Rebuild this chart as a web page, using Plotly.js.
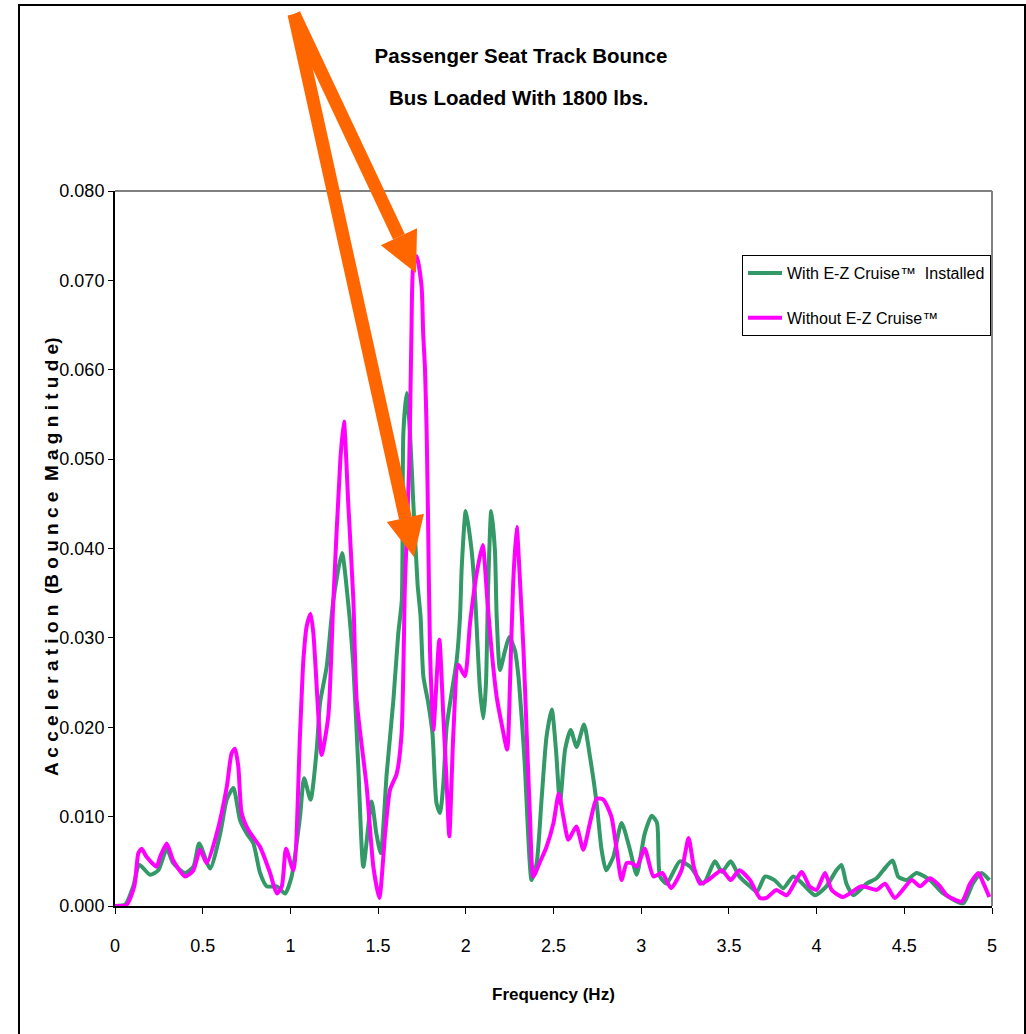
<!DOCTYPE html>
<html>
<head>
<meta charset="utf-8">
<script src="https://cdn.plot.ly/plotly-3.0.1.min.js"></script>
<style>html,body{margin:0;padding:0;background:#fff;}#chart{width:1026px;height:1034px;}</style>
</head>
<body>
<div id="chart"></div>
<script>
// ---- data ----
const freqWith = [0,0.06,0.104,0.139,0.2,0.247,0.295,0.332,0.399,0.447,0.48,0.542,0.6,0.637,0.675,0.713,0.751,0.789,0.827,0.865,0.922,0.97,1.007,1.055,1.078,1.115,1.15,1.169,1.207,1.245,1.294,1.328,1.359,1.387,1.416,1.463,1.49,1.515,1.549,1.587,1.615,1.635,1.644,1.663,1.682,1.70,1.725,1.742,1.758,1.786,1.81,1.833,1.853,1.872,1.891,1.919,1.948,1.967,1.977,2.0,2.033,2.052,2.081,2.1,2.115,2.128,2.145,2.166,2.176,2.195,2.224,2.248,2.28,2.3,2.318,2.337,2.356,2.375,2.404,2.432,2.46,2.49,2.514,2.537,2.566,2.598,2.632,2.674,2.708,2.746,2.774,2.8,2.841,2.888,2.936,2.974,3.02,3.06,3.09,3.107,3.145,3.22,3.28,3.354,3.42,3.46,3.51,3.56,3.62,3.66,3.706,3.76,3.81,3.867,3.92,3.991,4.056,4.113,4.142,4.17,4.21,4.285,4.342,4.38,4.433,4.465,4.513,4.57,4.647,4.722,4.836,4.89,4.94,4.985];
const accWith = [0,0.0002,0.0022,0.0046,0.0035,0.0040,0.0064,0.0048,0.0037,0.0044,0.0070,0.0042,0.0081,0.0119,0.0132,0.0096,0.0081,0.0070,0.0037,0.0022,0.0022,0.0014,0.0033,0.0100,0.0143,0.0119,0.0175,0.0227,0.0268,0.0342,0.0395,0.0342,0.0268,0.0156,0.0044,0.0117,0.0081,0.0059,0.0148,0.0230,0.0305,0.0342,0.0529,0.0574,0.0529,0.0454,0.0360,0.0324,0.0257,0.0227,0.0193,0.0115,0.0104,0.0137,0.0201,0.0238,0.0275,0.0324,0.0380,0.0442,0.0398,0.0350,0.0242,0.0210,0.0249,0.0361,0.0442,0.0398,0.0324,0.0264,0.0286,0.0301,0.0286,0.0257,0.0212,0.0156,0.0078,0.0029,0.0048,0.0119,0.0189,0.0220,0.0175,0.0115,0.0175,0.0197,0.0178,0.0203,0.0167,0.0115,0.0063,0.0040,0.0055,0.0093,0.0063,0.0035,0.0081,0.0101,0.0093,0.0033,0.0025,0.0050,0.0044,0.0025,0.0050,0.0038,0.0050,0.0033,0.0022,0.0016,0.0033,0.0029,0.0020,0.0033,0.0025,0.0012,0.0022,0.0040,0.0046,0.0025,0.0012,0.0025,0.0031,0.0040,0.0051,0.0033,0.0029,0.0037,0.0029,0.0014,0.0003,0.0025,0.0037,0.0029];

const freqWithout = [0,0.065,0.11,0.133,0.152,0.18,0.237,0.257,0.295,0.332,0.40,0.447,0.485,0.523,0.58,0.637,0.665,0.684,0.703,0.722,0.76,0.827,0.884,0.922,0.951,0.975,1.017,1.055,1.074,1.093,1.115,1.131,1.16,1.178,1.216,1.245,1.285,1.305,1.33,1.359,1.378,1.435,1.473,1.507,1.54,1.568,1.606,1.634,1.653,1.677,1.69,1.70,1.72,1.748,1.757,1.767,1.777,1.786,1.796,1.815,1.849,1.872,1.891,1.906,1.929,1.957,1.995,2.024,2.062,2.096,2.123,2.147,2.176,2.204,2.236,2.252,2.27,2.29,2.31,2.329,2.348,2.366,2.385,2.42,2.46,2.50,2.53,2.556,2.585,2.63,2.67,2.708,2.746,2.784,2.83,2.86,2.888,2.917,2.946,2.975,3.02,3.07,3.12,3.17,3.23,3.27,3.30,3.335,3.382,3.46,3.51,3.56,3.62,3.677,3.715,3.77,3.83,3.915,3.96,4.0,4.048,4.086,4.15,4.256,4.342,4.39,4.447,4.542,4.59,4.647,4.704,4.742,4.827,4.875,4.922,4.952,4.985];
const accWithout = [0,0.0001,0.0022,0.0059,0.0064,0.0055,0.0044,0.0055,0.0070,0.0051,0.0033,0.0040,0.0063,0.0048,0.0081,0.0133,0.0171,0.0176,0.0156,0.0104,0.0085,0.0066,0.0037,0.0014,0.0022,0.0064,0.0040,0.0193,0.0275,0.0313,0.0327,0.0305,0.0212,0.0169,0.0212,0.0342,0.0500,0.0542,0.0450,0.0342,0.0230,0.0133,0.0044,0.0009,0.0081,0.0130,0.0148,0.0193,0.0360,0.0490,0.0640,0.0715,0.0727,0.0693,0.0640,0.0603,0.0529,0.0417,0.0286,0.0197,0.0298,0.0212,0.0137,0.0078,0.0193,0.0270,0.0257,0.0316,0.0372,0.0404,0.0342,0.0286,0.0234,0.0204,0.0175,0.0249,0.0361,0.0424,0.0360,0.0286,0.0189,0.0100,0.0033,0.0048,0.0066,0.0093,0.0126,0.0100,0.0074,0.0089,0.0063,0.0093,0.0120,0.0119,0.0100,0.0063,0.0029,0.0048,0.0048,0.0044,0.0064,0.0033,0.0037,0.0020,0.0040,0.0076,0.0044,0.0025,0.0029,0.0040,0.0029,0.0040,0.0029,0.0009,0.0009,0.0018,0.0012,0.0038,0.0022,0.0018,0.0037,0.0018,0.0010,0.0022,0.0018,0.0025,0.0009,0.0029,0.0022,0.0031,0.0022,0.0012,0.0005,0.0025,0.0037,0.0025,0.0010];

const seriesNames = ['With E-Z Cruise\u2122  Installed', 'Without E-Z Cruise\u2122'];
const xTickVals = [0,0.5,1,1.5,2,2.5,3,3.5,4,4.5,5];
const xTickText = ['0','0.5','1','1.5','2','2.5','3','3.5','4','4.5','5'];

// ---- layout geometry ----
const W = 1026, H = 1034;
const L = 115, R = 992, T = 191, B = 906;
const px = x => (x - L) / (R - L);
const py = y => (B - y) / (B - T);
const FONT = '"Liberation Sans Narrow", "Arial Narrow", "Liberation Sans", Arial, sans-serif';

function arrowShapes(tail, tip, headLen, headHalf, shaftW, color) {
  const dx = tip[0]-tail[0], dy = tip[1]-tail[1];
  const len = Math.hypot(dx, dy);
  const ux = dx/len, uy = dy/len;
  const bx = tip[0]-headLen*ux, by = tip[1]-headLen*uy;
  const c1 = [bx + headHalf*(-uy), by + headHalf*ux];
  const c2 = [bx - headHalf*(-uy), by - headHalf*ux];
  const hw = shaftW/2;
  const s1 = [tail[0] + hw*(-uy), tail[1] + hw*ux];
  const s2 = [tail[0] - hw*(-uy), tail[1] - hw*ux];
  const s3 = [bx - hw*(-uy), by - hw*ux];
  const s4 = [bx + hw*(-uy), by + hw*ux];
  const P = p => px(p[0]) + ',' + py(p[1]);
  return [
    {type:'path', xref:'paper', yref:'paper', path:'M'+P(s1)+' L'+P(s2)+' L'+P(s3)+' L'+P(s4)+' Z', fillcolor:color, line:{width:0}, layer:'above'},
    {type:'path', xref:'paper', yref:'paper', path:'M'+P(c1)+' L'+P(tip)+' L'+P(c2)+' Z', fillcolor:color, line:{width:0}, layer:'above'}
  ];
}

const traces = [
  {x: freqWith, y: accWith, name: seriesNames[0], type:'scatter', mode:'lines',
   line:{color:'#339966', width:4, shape:'spline', smoothing:0.6}, legendgroup:'a'},
  {x: freqWithout, y: accWithout, name: seriesNames[1], type:'scatter', mode:'lines',
   line:{color:'#FF00FF', width:4, shape:'spline', smoothing:0.6}, legendgroup:'b'}
];

const shapes = [
  // outer chart border
  {type:'rect', xref:'paper', yref:'paper', x0:px(19), x1:px(1025), y0:py(1045), y1:py(5), line:{color:'#000', width:2}, fillcolor:'rgba(0,0,0,0)', layer:'below'},
  // plot area frame (grey top/right)
  {type:'line', xref:'paper', yref:'paper', x0:0, x1:1, y0:1, y1:1, line:{color:'#808080', width:2}, layer:'below'},
  {type:'line', xref:'paper', yref:'paper', x0:1, x1:1, y0:0, y1:1, line:{color:'#808080', width:2}, layer:'below'}
].concat(
  arrowShapes([294,14],[416,273],40,20,13,'#FF6600'),
  arrowShapes([294,14],[414,557],40,19,13,'#FF6600')
);

const layout = {
  width: W, height: H,
  margin:{l:L, r:W-R, t:T, b:H-B, pad:0, autoexpand:false},
  paper_bgcolor:'#fff', plot_bgcolor:'#fff',
  font:{family:FONT, color:'#000', size:18},
  showlegend:true,
  title:{text:'Passenger Seat Track Bounce', font:{family:FONT, size:20.5, color:'#000', weight:'bold'},
         x:521/W, xanchor:'center', y:1-56/H, yanchor:'middle', xref:'container', yref:'container'},
  xaxis:{range:[0,5], tickvals:xTickVals, ticktext:xTickText, ticks:'outside', ticklen:6, tickwidth:1, tickcolor:'#000',
         showline:true, linecolor:'#000', linewidth:2, showgrid:false, zeroline:false, fixedrange:true,
         tickfont:{family:FONT, size:18, color:'#000'}, ticklabelstandoff:16},
  yaxis:{range:[0,0.08], dtick:0.01, tick0:0, tickformat:'.3f', ticks:'outside', ticklen:5, tickwidth:1, tickcolor:'#000',
         showline:true, linecolor:'#000', linewidth:2, showgrid:false, zeroline:false, fixedrange:true,
         tickfont:{family:FONT, size:18, color:'#000'}},
  legend:{x:px(742), y:py(255), xanchor:'left', yanchor:'top', bgcolor:'#fff', bordercolor:'#000', borderwidth:1,
          font:{family:FONT, size:16, color:'#000'}, traceorder:'grouped', tracegroupgap:21, itemwidth:34},
  annotations:[
    {text:'Bus Loaded With 1800 lbs.', xref:'paper', yref:'paper', x:px(519), y:py(98), xanchor:'center', yanchor:'middle',
     showarrow:false, font:{family:FONT, size:20.5, color:'#000', weight:'bold'}},
    {text:'Frequency (Hz)', xref:'paper', yref:'paper', x:px(553), y:py(994), xanchor:'center', yanchor:'middle',
     showarrow:false, font:{family:FONT, size:17, color:'#000', weight:'bold'}},
    {text:'A c c e l e r a t i o n  (B o u n c e  M a g n i t u d e)', xref:'paper', yref:'paper', x:px(51), y:py(557),
     xanchor:'center', yanchor:'middle', textangle:-90, showarrow:false, font:{family:FONT, size:19, color:'#000', weight:'bold'}}
  ],
  shapes: shapes
};

Plotly.newPlot('chart', traces, layout, {displayModeBar:false, staticPlot:true});
</script>
</body>
</html>
